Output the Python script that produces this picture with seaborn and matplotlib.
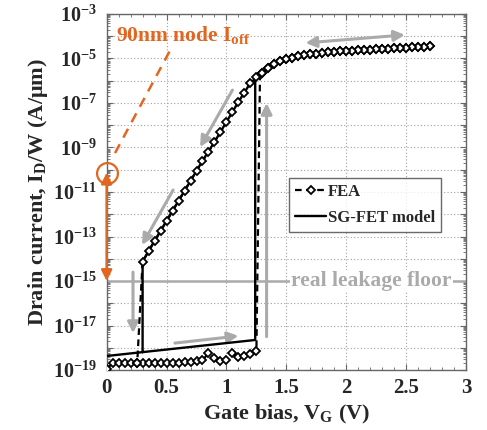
import numpy as np
import pandas as pd
import matplotlib
matplotlib.use("Agg")
import matplotlib.pyplot as plt
from matplotlib.ticker import FixedLocator, FuncFormatter, MultipleLocator, LogLocator
import seaborn as sns

# ---------------- data (log10 of I_D/W in A/um) ----------------
# FEA up-sweep (low branch, then jump and on-state)
fea_up_v = [0.00, 0.05, 0.10, 0.15, 0.20, 0.25, 0.30, 0.35, 0.40, 0.45, 0.50, 0.55,
            0.60, 0.65, 0.70, 0.75, 0.80, 0.85, 0.90, 0.95, 1.00, 1.05, 1.10, 1.15,
            1.20, 1.25, 1.28, 1.30, 1.35, 1.40, 1.45, 1.50, 1.55, 1.60, 1.65, 1.70,
            1.75, 1.80, 1.85, 1.90, 1.95, 2.00, 2.05, 2.10, 2.15, 2.20, 2.25, 2.30,
            2.35, 2.40, 2.45, 2.50, 2.55, 2.60, 2.65, 2.70]
fea_up_logi = [-18.95, -18.70, -18.68, -18.68, -18.68, -18.68, -18.68, -18.68, -18.68,
               -18.68, -18.68, -18.68, -18.67, -18.66, -18.65, -18.60, -18.55, -18.25,
               -18.45, -18.58, -18.55, -18.25, -18.42, -18.38, -18.28, -18.15, -5.75,
               -5.66, -5.42, -5.25, -5.13, -5.04, -4.97, -4.91, -4.86, -4.82, -4.78,
               -4.75, -4.72, -4.70, -4.68, -4.66, -4.645, -4.63, -4.615, -4.60, -4.585,
               -4.57, -4.555, -4.54, -4.525, -4.51, -4.495, -4.48, -4.465, -4.45]
# FEA down-sweep (on-state, subthreshold, drop to floor)
fea_dn_v = [2.70, 2.65, 2.60, 2.55, 2.50, 2.45, 2.40, 2.35, 2.30, 2.25, 2.20, 2.15,
            2.10, 2.05, 2.00, 1.95, 1.90, 1.85, 1.80, 1.75, 1.70, 1.65, 1.60, 1.55,
            1.50, 1.45, 1.40, 1.35, 1.30, 1.25, 1.20, 1.15, 1.10, 1.05, 1.00, 0.95,
            0.90, 0.85, 0.80, 0.75, 0.70, 0.65, 0.60, 0.55, 0.50, 0.45, 0.40, 0.35,
            0.30, 0.255]
fea_dn_logi = [-4.45, -4.465, -4.48, -4.495, -4.51, -4.525, -4.54, -4.555, -4.57,
               -4.585, -4.60, -4.615, -4.63, -4.645, -4.66, -4.68, -4.70, -4.72, -4.75,
               -4.78, -4.82, -4.86, -4.91, -4.97, -5.04, -5.13, -5.25, -5.42, -5.66,
               -5.85, -6.10, -6.55, -6.95, -7.40, -7.85, -8.30, -8.75, -9.20, -9.60,
               -10.05, -10.50, -10.95, -11.40, -11.85, -12.30, -12.75, -13.20, -13.65,
               -14.13, -18.70]
# SG-FET model path
model_v = [0.00, 1.24, 1.24, 1.30, 1.40, 1.50, 1.60, 1.70, 1.80, 1.90, 2.00, 2.20,
           2.40, 2.60, 2.70, 2.60, 2.40, 2.20, 2.00, 1.80, 1.60, 1.40, 1.30, 1.20,
           1.10, 1.00, 0.90, 0.80, 0.70, 0.60, 0.50, 0.40, 0.30, 0.30]
model_logi = [-18.37, -17.65, -5.89, -5.62, -5.25, -5.04, -4.91, -4.82, -4.75, -4.70,
              -4.66, -4.60, -4.54, -4.48, -4.45, -4.48, -4.54, -4.60, -4.66, -4.75,
              -4.91, -5.25, -5.62, -6.10, -6.95, -7.85, -8.75, -9.60, -10.50, -11.40,
              -12.30, -13.20, -14.13, -18.20]

floor_level = 1e-15
ioff_90nm = 10 ** -10.13

orange = "#E2661F"
gray = "#AAAAAA"

fea = pd.DataFrame({"V": fea_up_v + fea_dn_v,
                    "I": 10 ** np.array(fea_up_logi + fea_dn_logi)})
model = pd.DataFrame({"V": model_v, "I": 10 ** np.array(model_logi)})

# ---------------- style ----------------
sns.set_style("ticks")
plt.rcParams["font.family"] = ["Liberation Serif", "DejaVu Serif"]
plt.rcParams["font.weight"] = "bold"
plt.rcParams["mathtext.fontset"] = "custom"
plt.rcParams["mathtext.rm"] = "Liberation Serif:bold"
plt.rcParams["mathtext.it"] = "Liberation Serif:italic:bold"
plt.rcParams["mathtext.bf"] = "Liberation Serif:bold"

fig = plt.figure(figsize=(4.87, 4.30), dpi=100)
ax = fig.add_axes([0.219, 0.1395, 0.738, 0.828])

ax.set_yscale("log")
ax.set_xlim(0, 3)
ax.set_ylim(1e-19, 1e-3)

# real leakage floor line
ax.axhline(floor_level, color=gray, lw=1.8, zorder=1)

sns.lineplot(data=fea, x="V", y="I", sort=False, estimator=None, ax=ax,
             color="black", lw=1.6, linestyle=(0, (3, 2)), marker="D",
             markersize=4.5, markerfacecolor="white", markeredgecolor="black",
             markeredgewidth=1.3, label="FEA", zorder=4)
sns.lineplot(data=model, x="V", y="I", sort=False, estimator=None, ax=ax,
             color="black", lw=1.7, label="SG-FET model", zorder=3)

# gray sweep-direction arrows
ap = dict(arrowstyle="-|>", color=gray, lw=2.2, mutation_scale=16, shrinkA=0, shrinkB=0)
def garrow(x0, y0, x1, y1, style="-|>"):
    d = dict(ap)
    d["arrowstyle"] = style
    ax.annotate("", xy=(x1, 10 ** y1), xytext=(x0, 10 ** y0), arrowprops=d, zorder=2)

garrow(1.66, -4.30, 2.49, -3.94, "<|-|>")
garrow(1.05, -6.42, 0.78, -8.98)
garrow(0.555, -10.91, 0.295, -13.38)
garrow(0.22, -14.6, 0.22, -17.34)
garrow(0.57, -17.79, 1.10, -17.47)
garrow(1.335, -17.5, 1.335, -7.0)

# orange 90nm annotation
ax.plot([0], [ioff_90nm], marker="o", markersize=15, markerfacecolor="none",
        markeredgecolor=orange, markeredgewidth=1.6, clip_on=False, zorder=6)
ax.annotate("", xy=(0, ioff_90nm), xytext=(0, floor_level),
            arrowprops=dict(arrowstyle="<|-|>", color=orange, lw=1.8,
                            mutation_scale=16, shrinkA=0, shrinkB=0),
            annotation_clip=False, zorder=6)
ax.plot([0.07, 0.545], [10 ** -9.25, 10 ** -4.48], color=orange, lw=1.8,
        linestyle=(0, (4, 3)), zorder=5)
ax.text(0.075, 10 ** -3.95, r"90nm node I$_{\mathrm{off}}$", color=orange,
        fontsize=15.5, fontweight="bold", va="center", ha="left")

# floor label
ax.text(2.21, floor_level, "real leakage floor", color=gray, fontsize=15.5,
        fontweight="bold", ha="center", va="center",
        bbox=dict(facecolor="white", edgecolor="none", pad=1.0), zorder=2)

# ticks & grid
ax.yaxis.set_major_locator(FixedLocator([10.0 ** e for e in range(-19, -2)]))
ax.yaxis.set_minor_locator(LogLocator(base=10, subs=np.arange(2, 10), numticks=40))
def yfmt(v, p):
    e = int(round(np.log10(v)))
    return r"$10^{%d}$" % e if e % 2 != 0 else ""
ax.yaxis.set_major_formatter(FuncFormatter(yfmt))
ax.yaxis.set_minor_formatter(FuncFormatter(lambda v, p: ""))
ax.xaxis.set_major_locator(MultipleLocator(0.5))
ax.xaxis.set_minor_locator(MultipleLocator(0.1))
ax.xaxis.set_major_formatter(FuncFormatter(lambda v, p: f"{v:g}"))

ax.grid(True, which="major", color="#A0A0A0", linestyle=(0, (1, 2)), lw=0.8)
ax.tick_params(which="both", direction="in", top=True, right=True,
               color="#666666")
ax.tick_params(axis="x", labelsize=15, pad=6)
ax.tick_params(axis="y", labelsize=14.5, pad=7)
ax.tick_params(which="major", length=4)
ax.tick_params(which="minor", length=2)
for s in ax.spines.values():
    s.set_color("#666666")
    s.set_linewidth(1.0)
for lab in ax.get_xticklabels() + ax.get_yticklabels():
    lab.set_fontweight("bold")

ax.set_xlabel(r"Gate bias, V$_{\mathrm{G}}$ (V)", fontsize=16, fontweight="bold",
              labelpad=3)
ax.set_ylabel(r"Drain current, I$_{\mathrm{D}}$/W (A/μm)", fontsize=16,
              fontweight="bold", labelpad=2)

leg = ax.legend(loc="upper left", bbox_to_anchor=(0.507, 0.539), fontsize=12,
                frameon=True, fancybox=False, edgecolor="#444444",
                handlelength=1.9, borderpad=0.35, labelspacing=0.6,
                handletextpad=0.1, borderaxespad=0)
leg.get_frame().set_linewidth(1.0)
for t in leg.get_texts():
    t.set_fontweight("bold")

fig.savefig("out.png", dpi=100)
